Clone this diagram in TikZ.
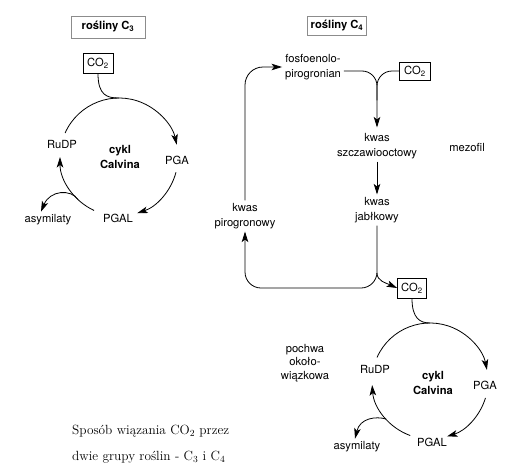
\documentclass[tikz,border=0pt]{standalone}
\usepackage{fontspec}
\setsansfont{TeX Gyre Heros}
\usetikzlibrary{arrows.meta,calc}
\begin{document}
\begin{tikzpicture}[x=1pt,y=-1pt,
  lbl/.style={font=\sffamily\fontsize{11.2}{14.5}\selectfont, align=center, inner sep=0pt, outer sep=3pt},
  bold/.style={font=\sffamily\bfseries\fontsize{11.2}{14.5}\selectfont},
  ttl/.style={draw=black!45, line width=0.8pt, font=\sffamily\bfseries\fontsize{11.2}{13}\selectfont, inner sep=0pt},
  cobox/.style={draw, line width=0.8pt, font=\sffamily\fontsize{11.2}{13}\selectfont, inner sep=0pt, minimum height=19pt, minimum width=30pt},
  ln/.style={line width=0.8pt},
  arr/.style={ln, -{Stealth[length=10.5pt,width=6.5pt,inset=2.5pt]}}]
\useasboundingbox (0,0) rectangle (508,471);

% titles
\node[ttl, minimum width=74pt, minimum height=22pt] (t3) at (108,27) {rośliny C\textsubscript{3}};
\node[ttl, minimum width=59pt, minimum height=19pt] (t4) at (337,26) {rośliny C\textsubscript{4}};

% ---------- C3 ----------
\coordinate (c1) at (119,157);
\node[cobox, minimum height=20pt] (co2a) at (98,63) {CO\textsubscript{2}};
\node[lbl, bold] (cc1) at (120,157) {cykl\\Calvina};
\node[lbl] (rudp1) at (62,144) {RuDP};
\node[lbl] (pga1) at (177,160) {PGA};
\node[lbl] (pgal1) at (118,218) {PGAL};
\node[lbl] (asy1) at (48,220) {asymilaty};

\draw[ln] (co2a.south) .. controls +(0,22) and +(-12,0) .. ($(c1)+(-90:59)$);
\draw[arr] ($(c1)+(-156:59)$) arc[start angle=-156,end angle=-12,radius=59];
\draw[arr] ($(c1)+(15:59)$) arc[start angle=15,end angle=72,radius=59];
\draw[arr] ($(c1)+(115:59)$) arc[start angle=115,end angle=180,radius=59];
\draw[arr] ($(c1)+(134:59)$) .. controls (71,189) and (50,190) .. ([xshift=-7pt]asy1.north);

% ---------- C4 ----------
\node[lbl] (fos) at (313,67) {fosfoenolo-\\pirogronian};
\node[cobox, minimum height=18pt, minimum width=31pt] (co2b) at (415,71) {CO\textsubscript{2}};
\node[lbl] (ksz) at (377,146) {kwas\\szczawiooctowy};
\node[lbl] (kj) at (377,210) {kwas\\jabłkowy};
\node[lbl] (kp) at (245,216) {kwas\\pirogronowy};
\node[lbl] (mez) at (467,147) {mezofil};
\node[cobox, minimum width=29pt, minimum height=20pt] (co2c) at (412,288) {CO\textsubscript{2}};
\node[lbl, font=\sffamily\fontsize{11.2}{13.5}\selectfont] (poch) at (305,363) {pochwa\\około-\\wiązkowa};
\coordinate (j2) at (377,273);

\draw[arr, rounded corners=15pt] ([yshift=-4pt]fos.east) -| ([yshift=3pt]ksz.north);
\draw[ln, rounded corners=15pt] (co2b.west) -| ($(ksz.north)+(0,-30)$);
\draw[arr] (ksz.south) -- (kj.north);
\draw[arr, rounded corners=16pt] (kj.south) -- (kj.south |- 0,288) -| (kp.south);
\draw[arr] (j2) .. controls (377,281) and (386,283) .. (co2c.west);
\draw[arr, rounded corners=18pt] (kp.north) |- (fos.west);

\coordinate (c2) at (430,381);
\node[lbl, bold] (cc2) at (433,383) {cykl\\Calvina};
\node[lbl] (rudp2) at (375,369) {RuDP};
\node[lbl] (pga2) at (485,385) {PGA};
\node[lbl] (pgal2) at (432,442) {PGAL};
\node[lbl] (asy2) at (357,447) {asymilaty};

\draw[ln] (co2c.south) .. controls +(0,20) and +(-10,0) .. ($(c2)+(-90:58)$);
\draw[arr] ($(c2)+(-156:58)$) arc[start angle=-156,end angle=-11,radius=58];
\draw[arr] ($(c2)+(17:58)$) arc[start angle=17,end angle=73,radius=58];
\draw[arr] ($(c2)+(110:58)$) arc[start angle=110,end angle=176,radius=58];
\draw[arr] ($(c2)+(139:58)$) .. controls (376,416) and (360,418) .. ([xshift=-2pt]asy2.north);

% caption
\node[font=\fontsize{13.3}{26}\selectfont, align=left, anchor=west, inner sep=0pt] (cap) at (72,444) {Sposób wiązania CO\textsubscript{2} przez\\dwie grupy roślin - C\textsubscript{3} i C\textsubscript{4}};
\end{tikzpicture}
\end{document}
